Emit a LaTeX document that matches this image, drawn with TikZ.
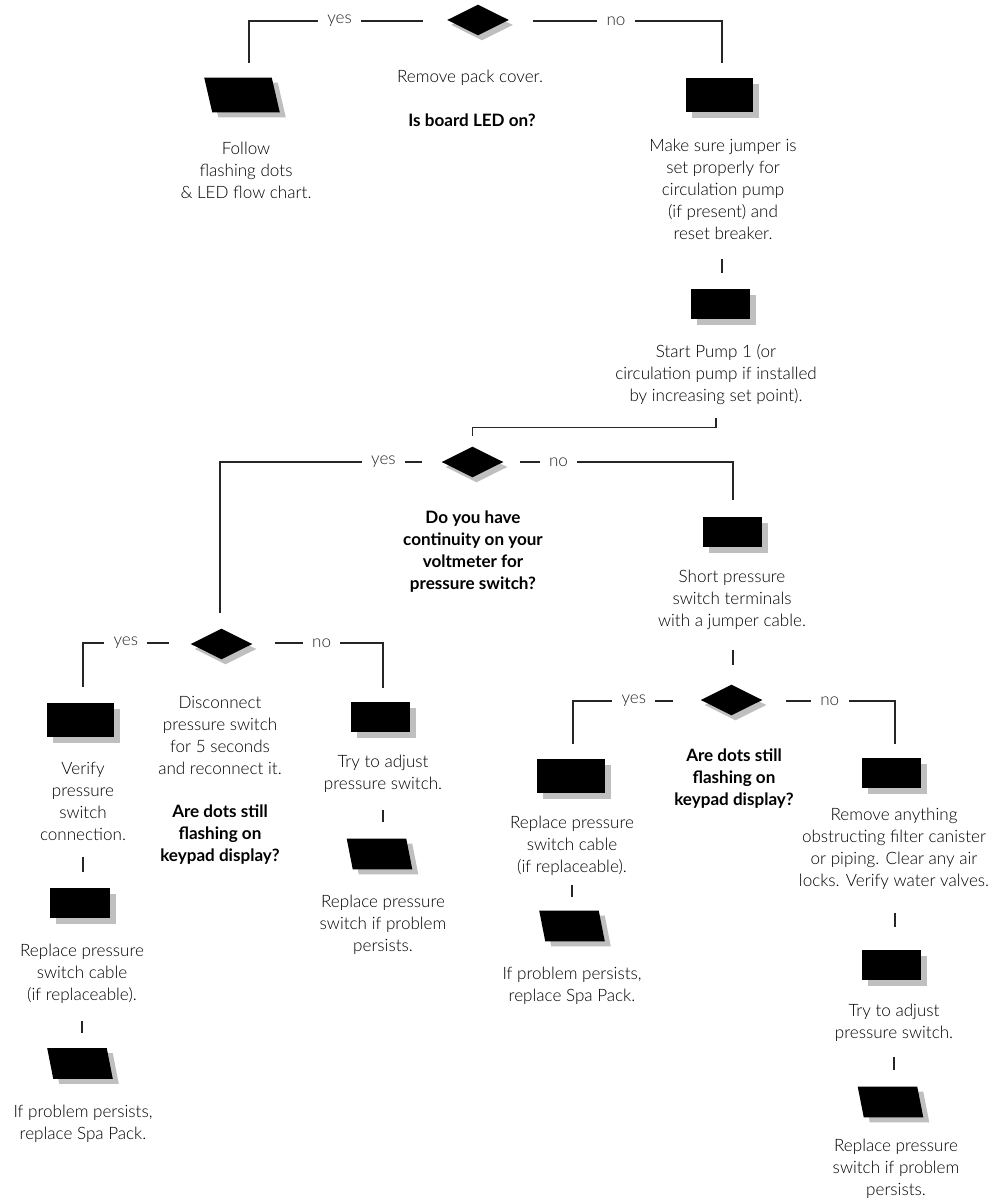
\documentclass[tikz,border=0pt]{standalone}
\usepackage{fontspec}
\setmainfont{Lato}[UprightFont=* Light, BoldFont=* Bold]
\usetikzlibrary{calc}
\definecolor{shadowc}{gray}{0.75}
\newcommand\mkbox[4]{%
  \node[#4] (#1) at (#2,#3) {};
  \fill[shadowc] ($(#1.north west)+(6,6)$) rectangle ($(#1.south east)+(6,6)$);
  \fill[black] (#1.north west) rectangle (#1.south east);}
\newcommand\mkpara[5]{%
  \node[#4] (#1) at (#2,#3) {};
  \fill[shadowc] ($(#1.north west)+(6-#5/2,5)$) -- ($(#1.north east)+(6-#5/2,5)$) -- ($(#1.south east)+(6+#5/2,5)$) -- ($(#1.south west)+(6+#5/2,5)$) -- cycle;
  \fill[black] ($(#1.north west)+(-#5/2,0)$) -- ($(#1.north east)+(-#5/2,0)$) -- ($(#1.south east)+(#5/2,0)$) -- ($(#1.south west)+(#5/2,0)$) -- cycle;}
\newcommand\mkdia[3]{%
  \node[diabox] (#1) at (#2,#3) {};
  \fill[shadowc] ($(#1.west)+(4,5)$) -- ($(#1.north)+(4,5)$) -- ($(#1.east)+(4,5)$) -- ($(#1.south)+(4,5)$) -- cycle;
  \fill[black] (#1.west) -- (#1.north) -- (#1.east) -- (#1.south) -- cycle;}
\begin{document}
\begin{tikzpicture}[x=0.75pt,y=-0.75pt,
  txt/.style={align=center, font=\fontsize{12.8}{16.5}\selectfont, inner sep=0pt},
  qtxt/.style={align=center, font=\fontsize{12.8}{16.5}\selectfont\bfseries, inner sep=0pt},
  lab/.style={fill=white, inner xsep=7pt, inner ysep=1pt, font=\fontsize{12.8}{16.5}\selectfont},
  ln/.style={line width=0.9pt, black!85},
  bigbox/.style={rectangle, inner sep=0pt, minimum width=50.25pt, minimum height=25.5pt},
  smallbox/.style={rectangle, inner sep=0pt, minimum width=44.25pt, minimum height=22.5pt},
  diabox/.style={rectangle, inner sep=0pt, minimum width=45.75pt, minimum height=22.5pt}]
\useasboundingbox (0,0) rectangle (1004,1201);

% ---------- top ----------
\mkdia{D1}{478}{20}
\node[txt] (t1) at (470,78) {Remove pack cover.};
\node[qtxt] (q1) at (472,120) {Is board LED on?};
\mkpara{A}{242}{95}{bigbox}{8}
\node[txt] (tA) at (246,170) {Follow\\flashing dots\\\& LED flow chart.};
\mkbox{B1}{719.5}{95}{bigbox}
\node[txt] (tB1) at (723,189.5) {Make sure jumper is\\set properly for\\circulation pump\\(if present) and\\reset breaker.};
\draw[ln] ($(D1.west)+(-24,1)$) -- node[lab,pos=0.48]{yes} ($(D1.west -| A.north)+(7,1)$) -- ($(A.north)+(7,-15)$);
\draw[ln] ($(D1.east)+(24,1)$) -- node[lab,pos=0.44]{no} ($(D1.east -| B1.north)+(2.5,1)$) -- ($(B1.north)+(2.5,-15)$);

\mkbox{B2}{720.5}{304}{smallbox}
\draw[ln] ($(B2.north)+(1.5,-30)$) -- ($(B2.north)+(1.5,-16)$);
\node[txt] (tB2) at (716,375) {Start Pump 1 (or\\circulation pump if installed\\by increasing set point).};

% ---------- second decision ----------
\mkdia{D2}{472.5}{462}
\coordinate (k1) at (716,418);
\draw[ln] (k1) |- ($(D2.north)+(0,-19)$) -- ($(D2.north)+(0,-11)$);
\node[qtxt] (q2) at (473,551.5) {Do you have\\continuity on your\\voltmeter for\\pressure switch?};

% ---------- left branch ----------
\mkdia{D3}{221.5}{644}
\node[txt] (tD3) at (220,735.75) {Disconnect\\pressure switch\\for 5 seconds\\and reconnect it.};
\node[qtxt] (q3) at (220,835) {Are dots still\\flashing on\\keypad display?};
\draw[ln] ($(D2.west)+(-20,0)$) -- node[lab,pos=0.19]{yes} ($(D2.west -| D3.north)+(-1.5,0)$) -- ($(D3.north)+(-1.5,-16)$);

\mkbox{B4}{80.5}{720}{bigbox}
\node[txt] (tB4) at (83,801) {Verify\\pressure\\switch\\connection.};
\mkbox{B5}{80}{903}{smallbox}
\draw[ln] ($(B5.north)+(3,-31)$) -- ($(B5.north)+(3,-16)$);
\node[txt] (tB5) at (82,973.5) {Replace pressure\\switch cable\\(if replaceable).};
\mkpara{P2}{80}{1063.5}{smallbox}{6}
\draw[ln] ($(P2.north)+(2,-27)$) -- ($(P2.north)+(2,-15)$);
\node[txt] (tP2) at (83,1124) {If problem persists,\\replace Spa Pack.};

\mkbox{B6}{380.5}{717}{smallbox}
\node[txt] (tB6) at (383,774) {Try to adjust\\pressure switch.};
\mkpara{P3}{379.5}{854}{smallbox}{6}
\draw[ln] ($(P3.north)+(3.5,-29)$) -- ($(P3.north)+(3.5,-17)$);
\node[txt] (tP3) at (383,925) {Replace pressure\\switch if problem\\persists.};

\draw[ln] ($(D3.west)+(-22,-1)$) -- node[lab,pos=0.5]{yes} ($(D3.west -| B4.north)+(2.5,-1)$) -- ($(B4.north)+(2.5,-16)$);
\draw[ln] ($(D3.east)+(23,-1)$) -- node[lab,pos=0.43]{no} ($(D3.east -| B6.north)+(2.5,-1)$) -- ($(B6.north)+(2.5,-14)$);

% ---------- right branch ----------
\mkbox{B3}{732.5}{532}{smallbox}
\draw[ln] ($(D2.east)+(17,0)$) -- node[lab,pos=0.18]{no} ($(D2.east -| B3.north)+(0.5,0)$) -- ($(B3.north)+(0.5,-17)$);
\node[txt] (tB3) at (732,600) {Short pressure\\switch terminals\\with a jumper cable.};

\mkdia{D4}{731.5}{700}
\draw[ln] ($(D4.north)+(1.5,-35)$) -- ($(D4.north)+(1.5,-20)$);
\node[qtxt] (q4) at (734,779) {Are dots still\\flashing on\\keypad display?};

\mkbox{B7}{571}{776}{bigbox}
\node[txt] (tB7) at (572,846) {Replace pressure\\switch cable\\(if replaceable).};
\mkpara{P4}{572}{926}{smallbox}{6}
\draw[ln] ($(P4.north)+(0,-26)$) -- ($(P4.north)+(0,-14)$);
\node[txt] (tP4) at (572,986) {If problem persists,\\replace Spa Pack.};

\mkbox{B8}{891.5}{773}{smallbox}
\node[txt] (tB8) at (894,848.5) {Remove anything\\obstructing filter canister\\or piping. Clear any air\\locks. Verify water valves.};
\mkbox{B9}{891.5}{965}{smallbox}
\draw[ln] ($(B9.north)+(3.5,-37)$) -- ($(B9.north)+(3.5,-23)$);
\node[txt] (tB9) at (894,1023) {Try to adjust\\pressure switch.};
\mkpara{P5}{890.5}{1102}{smallbox}{6}
\draw[ln] ($(P5.north)+(3.5,-30)$) -- ($(P5.north)+(3.5,-17)$);
\node[txt] (tP5) at (896,1169) {Replace pressure\\switch if problem\\persists.};

\draw[ln] ($(D4.west)+(-28,1)$) -- node[lab,pos=0.39]{yes} ($(D4.west -| B7.north)+(2,1)$) -- ($(B7.north)+(2,-15)$);
\draw[ln] ($(D4.east)+(24,1)$) -- node[lab,pos=0.40]{no} ($(D4.east -| B8.north)+(3.5,1)$) -- ($(B8.north)+(3.5,-14)$);
\end{tikzpicture}
\end{document}
